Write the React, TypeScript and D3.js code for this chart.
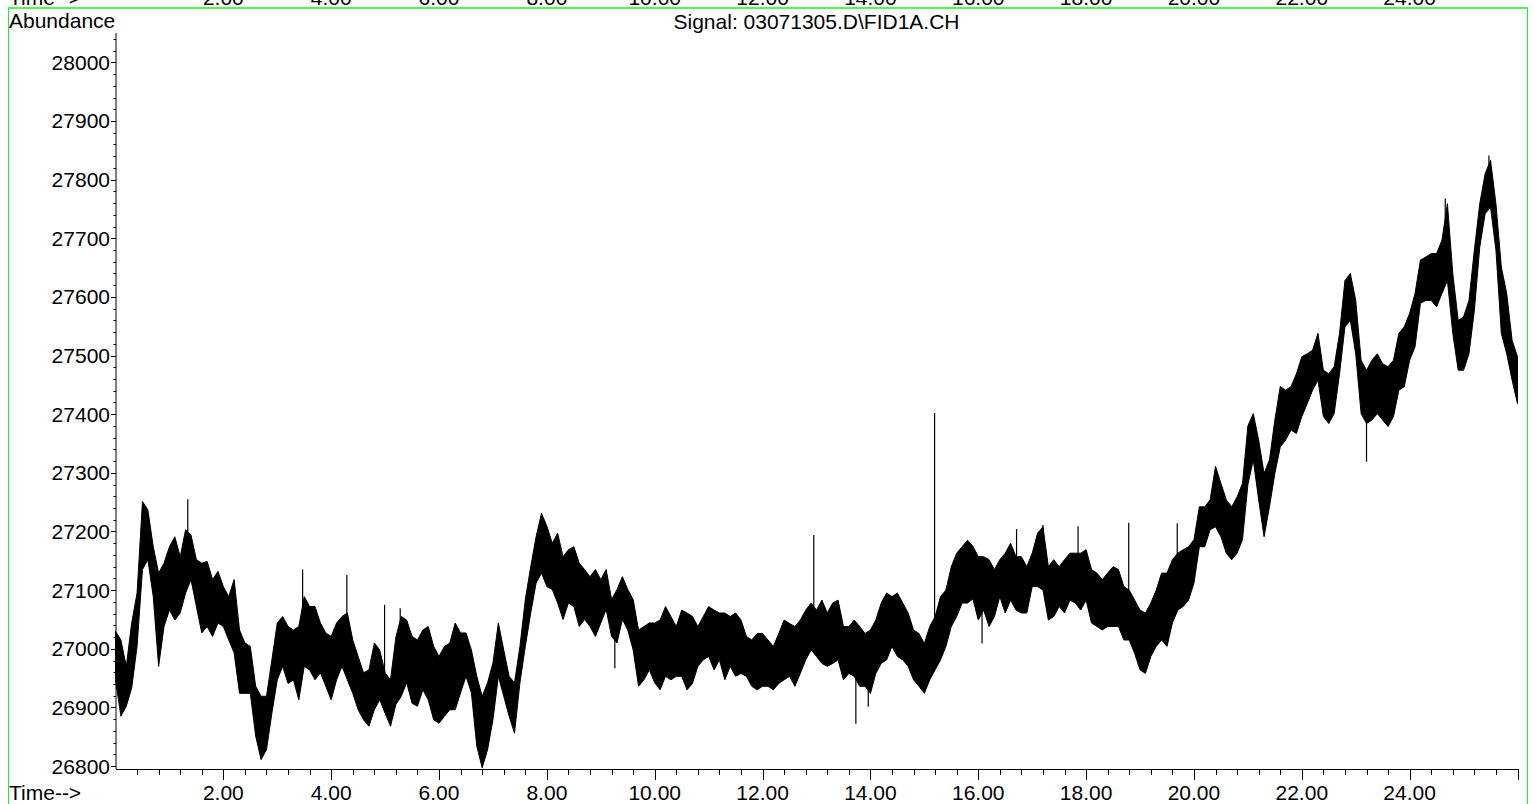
import React from "react";
import * as d3 from "d3";

// FID baseline trace, sampled every 0.1 min from 0.0 to 26.0 min:
// lower and upper envelope of the detector noise at each sample.
const SAMPLE_STEP = 0.1;

const LOW = [
  26947, 26885, 26902, 26933, 27004, 27135, 27152, 27089, 26970, 27038,
  27066, 27049, 27061, 27095, 27118, 27072, 27027, 27038, 27021, 27044,
  27038, 27015, 26993, 26924, 26924, 26924, 26851, 26811, 26828, 26890,
  26947, 26970, 26941, 26947, 26913, 26970, 26964, 26947, 26959, 26936,
  26913, 26947, 26970, 26947, 26924, 26896, 26879, 26868, 26896, 26913,
  26890, 26868, 26905, 26919, 26942, 26907, 26902, 26930, 26913, 26879,
  26873, 26885, 26896, 26896, 26925, 26953, 26925, 26834, 26797, 26828,
  26879, 26953, 26919, 26885, 26856, 26942, 27004, 27061, 27112, 27129,
  27106, 27101, 27078, 27050, 27078, 27072, 27038, 27050, 27038, 27021,
  27044, 27067, 27021, 27010, 27050, 27032, 26998, 26936, 26947, 26964,
  26942, 26930, 26953, 26947, 26953, 26953, 26930, 26941, 26970, 26981,
  26987, 26964, 26981, 26947, 26970, 26953, 26958, 26953, 26936, 26930,
  26936, 26936, 26930, 26941, 26947, 26953, 26936, 26958, 26981, 26998,
  26987, 26975, 26970, 26975, 26981, 26947, 26958, 26953, 26936, 26936,
  26924, 26958, 26975, 26981, 27004, 26987, 26981, 26970, 26947, 26936,
  26924, 26947, 26964, 26981, 27004, 27038, 27055, 27078, 27078, 27085,
  27049, 27066, 27038, 27055, 27089, 27061, 27083, 27066, 27061, 27061,
  27106, 27106, 27100, 27049, 27055, 27072, 27061, 27083, 27078, 27066,
  27083, 27044, 27038, 27032, 27038, 27038, 27038, 27015, 27015, 26992,
  26964, 26958, 26987, 27004, 27015, 27004, 27044, 27066, 27072, 27083,
  27112, 27174, 27174, 27203, 27208, 27191, 27163, 27152, 27163, 27186,
  27280, 27322, 27254, 27191, 27242, 27299, 27344, 27356, 27373, 27367,
  27396, 27418, 27441, 27458, 27396, 27384, 27401, 27469, 27549, 27560,
  27503, 27401, 27384, 27390, 27401, 27390, 27379, 27396, 27441, 27447,
  27492, 27515, 27589, 27594, 27594, 27583, 27606, 27628, 27538, 27475,
  27475, 27503, 27577, 27685, 27742, 27753, 27680, 27538, 27503, 27458,
  27418,
];

const HIGH = [
  27030, 27015, 26970, 27044, 27095, 27251, 27237, 27174, 27129, 27146,
  27174, 27191, 27157, 27203, 27194, 27152, 27146, 27149, 27118, 27132,
  27106, 27089, 27118, 27032, 27010, 27004, 26936, 26919, 26919, 26981,
  27044, 27055, 27038, 27032, 27038, 27089, 27072, 27072, 27044, 27027,
  27021, 27044, 27055, 27061, 27015, 26987, 26959, 26964, 27010, 26998,
  26959, 26947, 27020, 27055, 27049, 27021, 27015, 27032, 27038, 27004,
  26987, 27004, 27010, 27044, 27027, 27027, 26998, 26953, 26919, 26942,
  26976, 27044, 26998, 26953, 26942, 27004, 27084, 27140, 27191, 27231,
  27209, 27180, 27197, 27157, 27169, 27174, 27146, 27135, 27123, 27135,
  27118, 27135, 27084, 27101, 27123, 27101, 27084, 27032, 27038, 27044,
  27044, 27049, 27072, 27055, 27038, 27066, 27061, 27055, 27038, 27055,
  27072, 27066, 27061, 27061, 27055, 27061, 27049, 27021, 27015, 27026,
  27026, 27015, 27004, 27026, 27049, 27043, 27038, 27049, 27066, 27078,
  27066, 27083, 27061, 27078, 27083, 27038, 27038, 27049, 27038, 27026,
  27032, 27049, 27078, 27095, 27089, 27095, 27078, 27061, 27032, 27026,
  27009, 27038, 27055, 27089, 27100, 27140, 27163, 27174, 27185, 27175,
  27157, 27157, 27152, 27135, 27152, 27163, 27180, 27157, 27157, 27140,
  27163, 27197, 27208, 27140, 27152, 27140, 27152, 27163, 27163, 27163,
  27169, 27135, 27129, 27118, 27129, 27140, 27135, 27106, 27100, 27083,
  27066, 27061, 27078, 27100, 27129, 27129, 27152, 27163, 27169, 27174,
  27186, 27242, 27242, 27254, 27311, 27282, 27254, 27242, 27259, 27282,
  27380, 27401, 27356, 27299, 27322, 27390, 27447, 27441, 27447, 27469,
  27498, 27503, 27509, 27538, 27475, 27469, 27481, 27538, 27628, 27640,
  27594, 27492, 27475, 27492, 27503, 27486, 27481, 27492, 27538, 27549,
  27572, 27606, 27663, 27668, 27674, 27674, 27697, 27759, 27640, 27560,
  27566, 27594, 27680, 27759, 27810, 27833, 27759, 27651, 27606, 27526,
  27498,
];

// Isolated single-point spikes (retention time in min, abundance).
const SPIKE_TIMES = [
  1.34, 3.47, 4.29, 4.99, 5.28, 9.26, 12.95, 13.73, 13.96, 15.19,
  16.07, 16.71, 17.2, 17.85, 18.79, 19.69, 23.2, 24.66, 25.47,
];
const SPIKE_VALUES = [
  27255, 27135, 27126, 27075, 27069, 26967, 27194, 26872, 26901, 27402,
  27009, 27204, 27211, 27209, 27215, 27214, 27319, 27768, 27841,
];

const X_LABELS = [2, 4, 6, 8, 10, 12, 14, 16, 18, 20, 22, 24];
const Y_LABELS = [26800, 26900, 27000, 27100, 27200, 27300, 27400, 27500, 27600, 27700, 27800, 27900, 28000];

const TITLE = "Signal: 03071305.D\\FID1A.CH";
const Y_TITLE = "Abundance";
const X_TITLE = "Time-->";

const W = 1535;
const H = 804;
const FONT = "'Liberation Sans', Arial, Helvetica, sans-serif";
const FS = 21;
const FRAME = "#22ee22";

export default function App() {
  const x = d3.scaleLinear().domain([0, 26]).range([115.5, 1517.5]);
  const y = d3.scaleLinear().domain([26795, 28050]).range([769, 33]);

  const samples = LOW.map((lo, i) => ({ t: i * SAMPLE_STEP, lo, hi: HIGH[i] }));

  const band = d3
    .area<{ t: number; lo: number; hi: number }>()
    .x((d) => x(d.t))
    .y0((d) => y(d.lo))
    .y1((d) => y(d.hi))
    .curve(d3.curveLinear);

  const spikes = SPIKE_TIMES.map((t, i) => {
    const k = Math.round(t / SAMPLE_STEP);
    const s = samples[Math.max(0, Math.min(samples.length - 1, k))];
    return { t, v: SPIKE_VALUES[i], base: (s.lo + s.hi) / 2 };
  });

  const yMinor = d3.range(26800, 28041, 20).filter((v) => v % 100 !== 0);
  const xMinor = d3.range(1, 65).map((k) => k * 0.4).filter((t) => Math.abs(t / 2 - Math.round(t / 2)) > 1e-6);

  const x0 = x.range()[0];
  const x1 = x.range()[1];
  const yBottom = 769;
  const yTop = 33;

  return (
    <svg
      width={W}
      height={H}
      viewBox={`0 0 ${W} ${H}`}
      style={{ position: "absolute", left: 0, top: 0, background: "#fff", display: "block" }}
      fontFamily={FONT}
      fontSize={FS}
    >
      <rect x={0} y={0} width={W} height={H} fill="#fff" />

      {/* tail of the preceding panel's time axis */}
      <g fill="#000">
        <text x={9} y={5}>{X_TITLE}</text>
        {X_LABELS.map((t) => (
          <text key={"pt" + t} x={x(t)} y={5} textAnchor="middle">
            {t.toFixed(2)}
          </text>
        ))}
      </g>

      {/* panel frame */}
      <line x1={8} x2={1528} y1={8} y2={8} stroke={FRAME} strokeWidth={1.6} />
      <line x1={8.5} x2={8.5} y1={8} y2={H} stroke={FRAME} strokeWidth={1} />
      <line x1={1527.5} x2={1527.5} y1={8} y2={H} stroke={FRAME} strokeWidth={1} />

      <text x={9} y={28} fill="#000">{Y_TITLE}</text>
      <text x={(x0 + x1) / 2} y={29} textAnchor="middle" fill="#000">{TITLE}</text>

      {/* trace */}
      <path d={band(samples) ?? ""} fill="#000" stroke="#000" strokeWidth={1} strokeLinejoin="miter" />
      {spikes.map((s, i) => (
        <line
          key={"sp" + i}
          x1={x(s.t)}
          x2={x(s.t)}
          y1={y(s.base)}
          y2={y(s.v)}
          stroke="#000"
          strokeWidth={1.2}
        />
      ))}

      {/* y axis */}
      <g stroke="#000" strokeWidth={1}>
        <line x1={116} x2={116} y1={yTop} y2={yBottom} />
        {Y_LABELS.map((v) => (
          <line key={"ym" + v} x1={111} x2={116} y1={Math.round(y(v)) + 0.5} y2={Math.round(y(v)) + 0.5} />
        ))}
        {yMinor.map((v) => (
          <line key={"yn" + v} x1={113.5} x2={116} y1={Math.round(y(v)) + 0.5} y2={Math.round(y(v)) + 0.5} />
        ))}
      </g>
      <g fill="#000" textAnchor="end">
        {Y_LABELS.map((v) => (
          <text key={"yl" + v} x={110} y={y(v) + 7.5}>
            {v}
          </text>
        ))}
      </g>

      {/* x axis */}
      <g stroke="#000" strokeWidth={1}>
        <line x1={116} x2={x1 + 0.5} y1={yBottom + 0.5} y2={yBottom + 0.5} />
        {X_LABELS.map((t) => (
          <line key={"xm" + t} x1={Math.round(x(t)) + 0.5} x2={Math.round(x(t)) + 0.5} y1={yBottom} y2={yBottom + 11} />
        ))}
        {xMinor.map((t) => (
          <line key={"xn" + t} x1={Math.round(x(t)) + 0.5} x2={Math.round(x(t)) + 0.5} y1={yBottom} y2={yBottom + 6} />
        ))}
        <line x1={Math.round(x1) + 0.5} x2={Math.round(x1) + 0.5} y1={yBottom} y2={yBottom + 11} />
      </g>
      <g fill="#000">
        <text x={9} y={800}>{X_TITLE}</text>
        {X_LABELS.map((t) => (
          <text key={"xl" + t} x={x(t)} y={800} textAnchor="middle">
            {t.toFixed(2)}
          </text>
        ))}
      </g>
    </svg>
  );
}
